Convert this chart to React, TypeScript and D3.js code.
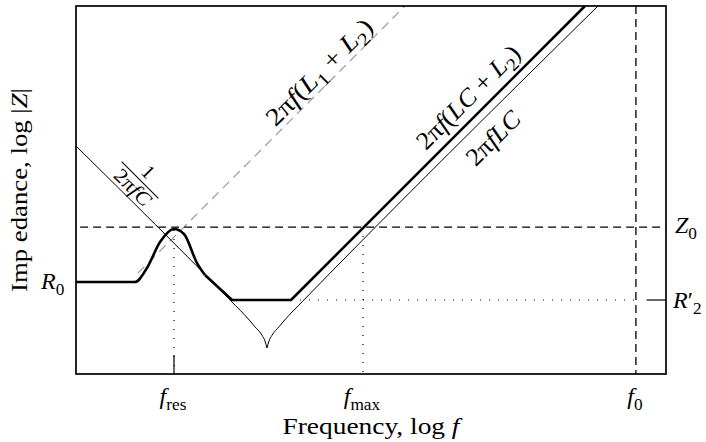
import * as d3 from "d3";

// log-frequency / log-impedance, in arbitrary "decade" units
const xTickVals = [1.661, 4.864, 9.49];
const xTickSubs = ["res", "max", "0"];

const levelVals = [1.559, 2.49, 1.254]; // R0, Z0, R'2

// |Z| of the full network (thick)
const thickBump: [number, number][] = [
  [0, 1.559], [1.0, 1.559], [1.203, 1.797], [1.424, 2.237], [1.661, 2.458],
  [1.83, 2.373], [2.051, 1.881], [2.186, 1.678],
];
const thickTail: [number, number][] = [
  [2.186, 1.678], [2.644, 1.254], [3.644, 1.254], [8.627, 6.237],
];

// series LC branch (thin): 1/(2πfC) down to the notch, then 2πfLC
const thinLeft: [number, number][] = [
  [0, 3.864], [2.7, 1.164], [2.864, 0.995], [3.034, 0.8], [3.153, 0.655],
  [3.203, 0.56], [3.237, 0.441],
];
const thinRight: [number, number][] = [
  [3.237, 0.441], [3.271, 0.56], [3.321, 0.655], [3.44, 0.8], [3.61, 0.995],
  [3.774, 1.164], [8.847, 6.237],
];

// 2πf(L1 + L2) asymptote (grey dashed)
const seriesL: [number, number][] = [[1.05, 1.711], [5.576, 6.237]];

const W = 706, H = 442;
const m = { left: 76, right: 666, top: 6, bottom: 374 };
const FONT = "'Liberation Serif', 'Times New Roman', serif";
const FS = 24;

type Part = [string, "r" | "i" | "s"];

function MathText({ parts, x = 0, y = 0, size = FS, anchor = "start", transform, len }: {
  parts: Part[]; x?: number; y?: number; size?: number; anchor?: string; transform?: string; len?: number;
}) {
  const shift = size * 0.24;
  let low = false;
  return (
    <text x={x} y={y} fontSize={size} textAnchor={anchor} transform={transform}
      fontFamily={FONT} fill="#000"
      textLength={len} lengthAdjust={len ? "spacingAndGlyphs" : undefined}>
      {parts.map(([t, k], i) => {
        let dy = 0;
        if (k === "s" && !low) { dy = shift; low = true; }
        else if (k !== "s" && low) { dy = -shift; low = false; }
        return (
          <tspan key={i} dy={dy || undefined} fontStyle={k === "i" ? "italic" : "normal"}
            fontSize={k === "s" ? size * 0.72 : size}>{t}</tspan>
        );
      })}
    </text>
  );
}

export default function App() {
  const x = d3.scaleLinear().domain([0, 10]).range([m.left, m.right]);
  const y = d3.scaleLinear().domain([0, 6.237]).range([m.bottom, m.top]);

  const lin = d3.line<[number, number]>().x((d) => x(d[0])).y((d) => y(d[1]));
  const smooth = d3.line<[number, number]>().x((d) => x(d[0])).y((d) => y(d[1]))
    .curve(d3.curveMonotoneX);

  const [r0, z0, r2] = levelVals;
  const [fres, fmax, f0] = xTickVals;

  return (
    <svg width={W} height={H} style={{ position: "fixed", left: 0, top: 0, background: "#fff" }}>
      {/* grey asymptote */}
      <path d={lin(seriesL) || ""} fill="none" stroke="#9a9a9a" strokeWidth={1.2} strokeDasharray="9,6" />

      {/* reference levels */}
      <line x1={x(0.07)} x2={x(10)} y1={y(z0)} y2={y(z0)} stroke="#000" strokeWidth={1.3} strokeDasharray="8,5" />
      <line x1={x(f0)} x2={x(f0)} y1={y(6.237)} y2={y(0)} stroke="#000" strokeWidth={1.3} strokeDasharray="8,5" />
      <line x1={x(3.644)} x2={x(f0)} y1={y(r2)} y2={y(r2)} stroke="#000" strokeWidth={1.2} strokeDasharray="1,8" />
      <line x1={x(9.67)} x2={x(10)} y1={y(r2)} y2={y(r2)} stroke="#000" strokeWidth={1.2} />
      <line x1={x(fres)} x2={x(fres)} y1={y(2.44)} y2={y(0)} stroke="#000" strokeWidth={1.2} strokeDasharray="1,8" />
      <line x1={x(fres)} x2={x(fres)} y1={y(0.32)} y2={y(0)} stroke="#000" strokeWidth={1.2} />
      <line x1={x(fmax)} x2={x(fmax)} y1={y(z0)} y2={y(0)} stroke="#000" strokeWidth={1.2} strokeDasharray="1,8" />

      {/* thin LC branch */}
      <path d={smooth(thinLeft) || ""} fill="none" stroke="#000" strokeWidth={1} />
      <path d={smooth(thinRight) || ""} fill="none" stroke="#000" strokeWidth={1} />

      {/* thick total */}
      <path d={smooth(thickBump) || ""} fill="none" stroke="#000" strokeWidth={2.6} strokeLinejoin="round" />
      <path d={lin(thickTail) || ""} fill="none" stroke="#000" strokeWidth={2.6} strokeLinejoin="round" />

      {/* frame */}
      <rect x={m.left} y={m.top} width={m.right - m.left} height={m.bottom - m.top}
        fill="none" stroke="#000" strokeWidth={1.7} />

      {/* curve labels */}
      <MathText parts={[["2π", "r"], ["f", "i"], ["(", "r"], ["L", "i"], ["1", "s"], [" + ", "r"], ["L", "i"], ["2", "s"], [")", "r"]]}
        anchor="middle" size={25} len={140} transform="translate(325,78) rotate(-45)" />
      <MathText parts={[["2π", "r"], ["f", "i"], ["(", "r"], ["LC", "i"], [" + ", "r"], ["L", "i"], ["2", "s"], [")", "r"]]}
        anchor="middle" size={25} len={136} transform="translate(474,103) rotate(-45)" />
      <MathText parts={[["2π", "r"], ["fLC", "i"]]}
        anchor="middle" size={25} len={66} transform="translate(499,144) rotate(-45)" />
      <g transform="translate(140,180) rotate(45)">
        <line x1={-26} x2={26} y1={0} y2={0} stroke="#000" strokeWidth={1} />
        <MathText parts={[["1", "r"]]} anchor="middle" size={20} y={-5} />
        <MathText parts={[["2π", "r"], ["fC", "i"]]} anchor="middle" size={20} len={44} y={17} />
      </g>

      {/* x tick labels */}
      {xTickVals.map((v, i) => (
        <MathText key={i} parts={[["f", "i"], [xTickSubs[i], "s"]]} x={x(v) - 1} y={404} anchor="middle" />
      ))}
      <MathText parts={[["Frequency, log ", "r"], ["f", "i"]]} x={371} y={434} anchor="middle" len={177} />

      {/* level labels */}
      <MathText parts={[["R", "i"], ["0", "s"]]} x={41} y={y(r0) + 7} />
      <MathText parts={[["Z", "i"], ["0", "s"]]} x={675} y={y(z0) + 6} />
      <MathText parts={[["R", "i"], ["′", "r"], ["2", "s"]]} x={673} y={y(r2) + 8} />

      <MathText parts={[["Imp edance, log |", "r"], ["Z", "i"], ["|", "r"]]}
        anchor="middle" len={204} transform="translate(27,190) rotate(-90)" />
    </svg>
  );
}
